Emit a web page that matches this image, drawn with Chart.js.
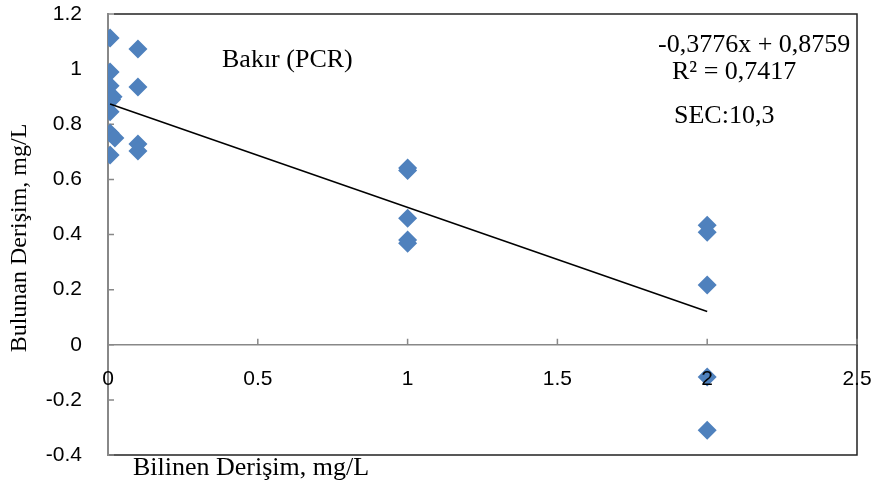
<!DOCTYPE html>
<html>
<head>
<meta charset="utf-8">
<script src="https://cdn.jsdelivr.net/npm/chart.js@4"></script>
<style>
  body { margin: 0; background: #fff; }
  #wrap { width: 876px; height: 488px; }
</style>
</head>
<body>
<div id="wrap"><canvas id="chart" width="876" height="488"></canvas></div>
<script>
// measured points (known vs found concentration)
const knownValues = [0.007, 0.007, 0.007, 0.017, 0.012, 0.007, 0.007, 0.023, 0.007,
                     0.1, 0.1, 0.1, 0.1,
                     1, 1, 1, 1, 1,
                     2, 2, 2, 2, 2];
const foundValues = [1.113, 0.99, 0.94, 0.90, 0.89, 0.845, 0.768, 0.75, 0.688,
                     1.073, 0.935, 0.728, 0.703,
                     0.641, 0.632, 0.459, 0.38, 0.368,
                     0.434, 0.408, 0.217, -0.117, -0.31];

// trend line y = -0.3776x + 0.8759 over the data range
const trendX = [0.007, 2];
const slope = -0.3776;
const intercept = 0.8759;

const xTicks = [0, 0.5, 1, 1.5, 2, 2.5];
const yTicks = [-0.4, -0.2, 0, 0.2, 0.4, 0.6, 0.8, 1, 1.2];

const points = knownValues.map((x, i) => ({ x: x, y: foundValues[i] }));
const trend = trendX.map(x => ({ x: x, y: slope * x + intercept }));

const fmt = v => String(Math.round(v * 10) / 10);

// frame, inner tick marks and text annotations
const extras = {
    id: 'extras',
    beforeDatasetsDraw(chart) {
        const ctx = chart.ctx;
        const a = chart.chartArea;
        const xs = chart.scales.x, ys = chart.scales.y;
        ctx.save();
        ctx.strokeStyle = '#222';
        ctx.lineWidth = 1.5;
        ctx.beginPath();
        ctx.moveTo(a.left + 6, a.top);
        ctx.lineTo(a.right, a.top);
        ctx.lineTo(a.right, a.bottom);
        ctx.lineTo(a.left + 1, a.bottom);
        ctx.stroke();

        // ticks pointing into the plot
        ctx.strokeStyle = '#888';
        ctx.lineWidth = 1.5;
        ctx.beginPath();
        const y0 = ys.getPixelForValue(0);
        xs.ticks.forEach(t => {
            const px = xs.getPixelForValue(t.value);
            ctx.moveTo(px, y0);
            ctx.lineTo(px, y0 - 6);
        });
        ys.ticks.forEach(t => {
            const py = ys.getPixelForValue(t.value);
            ctx.moveTo(a.left, py);
            ctx.lineTo(a.left + 6, py);
        });
        ctx.stroke();
        ctx.restore();
    },
    afterDraw(chart) {
        const ctx = chart.ctx;
        ctx.save();
        ctx.fillStyle = '#000';
        ctx.font = '26px "Liberation Serif"';
        ctx.textBaseline = 'middle';
        ctx.textAlign = 'left';
        ctx.fillText('Bakır (PCR)', 222, 60);
        ctx.fillText('-0,3776x + 0,8759', 658, 45);
        ctx.fillText('R² = 0,7417', 672, 72);
        ctx.fillText('SEC:10,3', 674, 116);
        ctx.fillText('Bilinen Derişim, mg/L', 133, 468);

        ctx.font = '24px "Liberation Serif"';
        ctx.translate(20, 238);
        ctx.rotate(-Math.PI / 2);
        ctx.textAlign = 'center';
        ctx.fillText('Bulunan Derişim, mg/L', 0, 0);
        ctx.restore();
    }
};

new Chart(document.getElementById('chart'), {
    type: 'scatter',
    data: {
        datasets: [
            {
                label: 'Bakır',
                data: points,
                pointStyle: 'rectRot',
                pointRadius: 9.5,
                backgroundColor: '#4F81BD',
                borderColor: '#4F81BD',
                borderWidth: 0,
                order: 2
            },
            {
                label: 'trend',
                type: 'line',
                data: trend,
                borderColor: '#000',
                borderWidth: 1.5,
                pointRadius: 0,
                fill: false,
                order: 1
            }
        ]
    },
    options: {
        responsive: false,
        animation: false,
        layout: { padding: { left: 0, right: 19, top: 14, bottom: 33 } },
        plugins: {
            legend: { display: false },
            tooltip: { enabled: false }
        },
        scales: {
            x: {
                type: 'linear',
                position: { y: 0 },
                min: 0,
                max: 2.5,
                afterBuildTicks: s => { s.ticks = xTicks.map(v => ({ value: v })); },
                afterFit: s => { s.height = 0; },
                ticks: {
                    z: 1,
                    color: '#000',
                    font: { family: '"Liberation Sans"', size: 21 },
                    padding: 2,
                    maxRotation: 0,
                    callback: fmt
                },
                grid: { drawOnChartArea: false, drawTicks: true, tickLength: 20, tickColor: 'rgba(0,0,0,0)', color: '#888' },
                border: { color: '#888', width: 1.5 }
            },
            y: {
                type: 'linear',
                min: -0.4,
                max: 1.2,
                afterBuildTicks: s => { s.ticks = yTicks.map(v => ({ value: v })); },
                afterFit: s => { s.width = 108; },
                ticks: {
                    color: '#000',
                    font: { family: '"Liberation Sans"', size: 21 },
                    padding: 1,
                    callback: fmt
                },
                grid: { drawOnChartArea: false, drawTicks: true, tickLength: 25, tickColor: 'rgba(0,0,0,0)', color: '#888' },
                border: { color: '#888', width: 2 }
            }
        }
    },
    plugins: [extras]
});
</script>
</body>
</html>
